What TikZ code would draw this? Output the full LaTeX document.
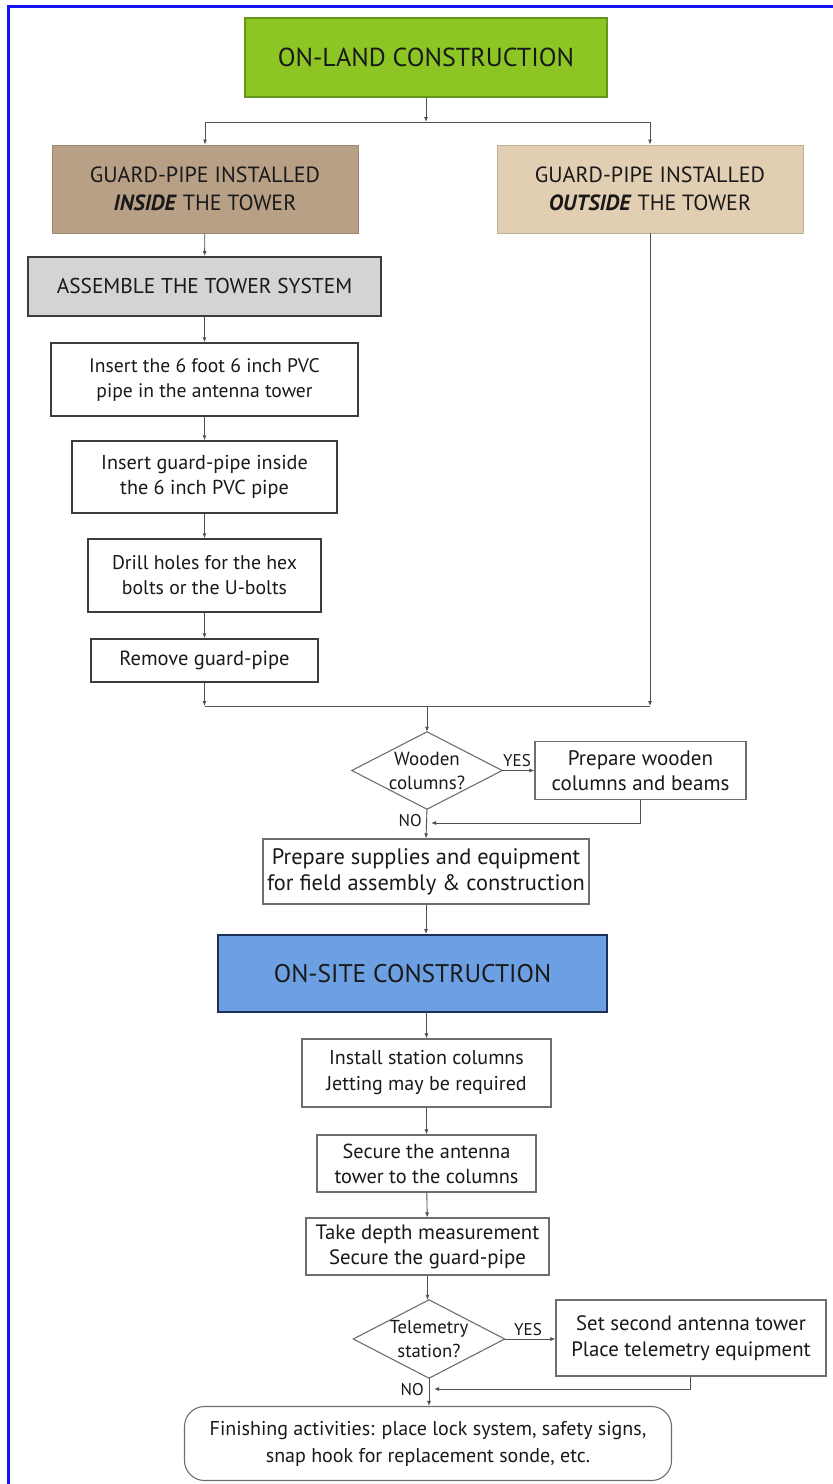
\documentclass[tikz,border=0pt]{standalone}
\usepackage{fontspec}
\setmainfont{PT Sans}
\usetikzlibrary{arrows.meta,calc}
\definecolor{landgreen}{RGB}{141,198,36}
\definecolor{landedge}{RGB}{100,150,30}
\definecolor{inbrown}{RGB}{184,160,134}
\definecolor{outtan}{RGB}{226,206,178}
\definecolor{asmgrey}{RGB}{212,212,212}
\definecolor{siteblue}{RGB}{108,160,226}
\definecolor{siteedge}{RGB}{30,48,90}
\definecolor{edgegrey}{RGB}{60,60,60}
\definecolor{lightedge}{RGB}{110,110,110}
\definecolor{linegrey}{RGB}{80,80,80}
\definecolor{frameblue}{RGB}{20,20,245}
\definecolor{txt}{RGB}{25,25,25}
\tikzset{
  x=1pt,y=-1pt,
  boxbase/.style={rectangle,inner sep=0pt,align=center,text=txt},
  darkbox/.style={boxbase,draw=edgegrey,line width=1.4pt,fill=white},
  lightbox/.style={boxbase,draw=lightedge,line width=1.1pt,fill=white},
  decision/.style={boxbase,draw=none},
  arr/.style={draw=linegrey,line width=0.9pt,-{Latex[length=5pt,width=4pt]}},
  ln/.style={draw=linegrey,line width=0.9pt},
  lbl/.style={inner sep=0pt,text=txt,font=\fontsize{17}{19}\selectfont}
}
\begin{document}
\begin{tikzpicture}
\useasboundingbox (0,0) rectangle (833,1484);
\fill[white] (0,0) rectangle (833,1484);
\draw[frameblue,line width=3pt] (8,1484) -- (8,6) -- (833,6);

% --- on-land part
\node[boxbase,draw=landedge,line width=1.2pt,fill=landgreen,minimum width=362pt,minimum height=79pt,
  font=\fontsize{26}{30}\selectfont] (land) at (426,57.5) {ON-LAND CONSTRUCTION};
\node[boxbase,draw=inbrown!85!black,line width=0.8pt,fill=inbrown,minimum width=306pt,minimum height=88pt,
  font=\fontsize{22}{28}\selectfont] (gin) at (205,189) {GUARD-PIPE INSTALLED\\\textbf{\textit{INSIDE}} THE TOWER};
\node[boxbase,draw=outtan!85!black,line width=0.8pt,fill=outtan,minimum width=306pt,minimum height=88pt,
  font=\fontsize{22}{28}\selectfont] (gout) at (650,189) {GUARD-PIPE INSTALLED\\\textbf{\textit{OUTSIDE}} THE TOWER};
\node[boxbase,draw=edgegrey,line width=2pt,fill=asmgrey,minimum width=353pt,minimum height=59pt,
  font=\fontsize{21.4}{24}\selectfont] (asm) at (204.5,286.5) {ASSEMBLE THE TOWER SYSTEM};
\node[darkbox,minimum width=307pt,minimum height=73pt,font=\fontsize{19.6}{25}\selectfont]
  (ins1) at (204.5,379.5) {Insert the 6 foot 6 inch PVC\\pipe in the antenna tower};
\node[darkbox,minimum width=265pt,minimum height=72pt,font=\fontsize{20.2}{25}\selectfont]
  (ins2) at (204.5,477) {Insert guard-pipe inside\\the 6 inch PVC pipe};
\node[darkbox,minimum width=233pt,minimum height=73pt,font=\fontsize{19.8}{25}\selectfont]
  (drill) at (204.5,575.5) {Drill holes for the hex\\bolts or the U-bolts};
\node[darkbox,minimum width=227pt,minimum height=43pt,font=\fontsize{20.5}{25}\selectfont]
  (rem) at (204.5,660.5) {Remove guard-pipe};

\coordinate (split) at (426,122);
\draw[arr] (land.south) -- (split);
\draw[arr] (split) -| (gin.north);
\draw[arr] (split) -| (gout.north);
\draw[arr] (gin) -- (asm);
\draw[arr] (asm) -- (ins1);
\draw[arr] (ins1) -- (ins2);
\draw[arr] (ins2) -- (drill);
\draw[arr] (drill) -- (rem);

\coordinate (mL) at (204.5,706);
\coordinate (mR) at (650,706);
\coordinate (mC) at (427,706);
\draw[arr] (rem.south) -- (mL);
\draw[arr] (gout.south) -- (mR);
\draw[ln] (mL) -- (mR);

% --- wooden columns decision
\node[decision,minimum width=150pt,minimum height=77pt,font=\fontsize{19}{24}\selectfont]
  (wood) at (427,770.5) {Wooden\\columns?};
\draw[lightedge,line width=1.1pt] (wood.north) -- (wood.east) -- (wood.south) -- (wood.west) -- cycle;
\node[lightbox,minimum width=211pt,minimum height=58pt,font=\fontsize{21}{25}\selectfont]
  (pwood) at (640.5,770.5) {Prepare wooden\\columns and beams};
\draw[arr] (mC) -- (wood.north);
\draw[arr] (wood.east) -- (wood.east -| pwood.west);
\node[lbl,anchor=south] (yes1) at (517,767) {YES};
\coordinate (j1) at (431,823);
\draw[arr] (pwood.south) |- (j1);
\node[darkbox,draw=lightedge,line width=1.1pt,minimum width=326pt,minimum height=65pt,font=\fontsize{22.4}{26}\selectfont]
  (supp) at (426,871.5) {Prepare supplies and equipment\\for field assembly \& construction};
\draw[arr] (wood.south) -- (supp.north);
\node[lbl,anchor=east] (no1) at (422,821) {NO};

% --- on-site
\node[boxbase,draw=siteedge,line width=2pt,fill=siteblue,minimum width=389pt,minimum height=77pt,
  font=\fontsize{25.5}{28}\selectfont] (site) at (412.5,973.5) {ON-SITE CONSTRUCTION};
\draw[arr] (supp.south) -- (supp.south |- site.north);
\node[lightbox,minimum width=249pt,minimum height=68pt,font=\fontsize{20}{26}\selectfont]
  (inst) at (426.5,1073) {Install station columns\\Jetting may be required};
\draw[arr] (site.south -| inst.north) -- (inst.north);
\node[lightbox,minimum width=219pt,minimum height=57pt,font=\fontsize{20.3}{25}\selectfont]
  (sec) at (426.5,1163.5) {Secure the antenna\\tower to the columns};
\node[lightbox,minimum width=243pt,minimum height=57pt,font=\fontsize{20.8}{25}\selectfont]
  (depth) at (427.5,1246.5) {Take depth measurement\\Secure the guard-pipe};
\draw[arr] (inst) -- (sec);
\draw[arr] (sec) -- (depth);

% --- telemetry decision
\node[decision,minimum width=151pt,minimum height=78pt,font=\fontsize{18.7}{24}\selectfont]
  (tele) at (429,1339) {Telemetry\\station?};
\draw[lightedge,line width=1.1pt] (tele.north) -- (tele.east) -- (tele.south) -- (tele.west) -- cycle;
\draw[arr] (depth.south) -- (depth.south |- tele.north);
\node[lightbox,minimum width=270pt,minimum height=76pt,font=\fontsize{20.8}{26}\selectfont]
  (set2) at (691,1338) {Set second antenna tower\\Place telemetry equipment};
\draw[arr] (tele.east) -- (tele.east -| set2.west);
\node[lbl,anchor=south] (yes2) at (528,1336) {YES};
\node[boxbase,draw=lightedge,line width=1.1pt,fill=white,rounded corners=20pt,minimum width=487pt,minimum height=74pt,
  font=\fontsize{20}{27}\selectfont] (fin) at (428,1443.5)
  {Finishing activities: place lock system, safety signs,\\snap hook for replacement sonde, etc.};
\coordinate (j2) at (434,1389);
\draw[arr] (set2.south -| 690,0) |- (j2);
\draw[arr] (tele.south) -- (tele.south |- fin.north);
\node[lbl,anchor=east] (no2) at (424,1390) {NO};
\end{tikzpicture}
\end{document}
